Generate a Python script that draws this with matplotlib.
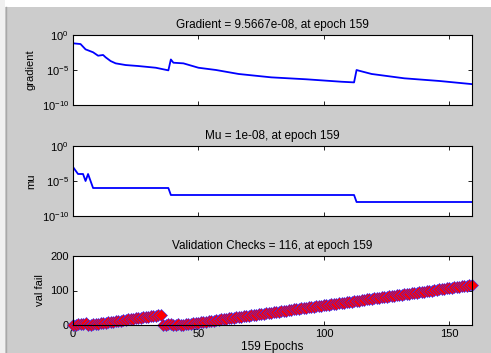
import matplotlib
matplotlib.use('Agg')
import matplotlib.pyplot as plt
from matplotlib.patches import Rectangle
from matplotlib.lines import Line2D

plt.rcParams['font.family'] = ['Liberation Sans', 'DejaVu Sans']
plt.rcParams['mathtext.fontset'] = 'custom'
plt.rcParams['mathtext.rm'] = 'Liberation Sans'
plt.rcParams['mathtext.it'] = 'Liberation Sans'
plt.rcParams['font.size'] = 8

N_EPOCHS = 159

# gradient
grad_epoch = [0, 3, 5, 8, 10, 12, 13, 15, 17, 21, 26, 33, 38, 39, 40, 44,
              50, 57, 66, 79, 93, 107, 112, 113, 114, 119, 132, 146, 159]
grad_val = [6.5e-2, 5.1e-2, 8.9e-3, 3.4e-3, 1.1e-3, 1.4e-3, 6.5e-4, 1.9e-4,
            8.9e-5, 5.1e-5, 3.7e-5, 2.1e-5, 8.9e-6, 3.2e-4, 1.1e-4, 8.9e-5,
            2.1e-5, 1.0e-5, 2.7e-6, 8.9e-7, 4.7e-7, 2.1e-7, 1.7e-7, 1.0e-5,
            7.9e-6, 2.7e-6, 6.5e-7, 2.7e-7, 9.5667e-8]

# mu
mu_epoch = [0, 2, 4, 5, 6, 7, 8, 38, 39, 112, 113, 159]
mu_val = [1e-3, 1e-4, 1e-4, 1e-5, 1e-4, 1e-5, 1e-6, 1e-6, 1e-7, 1e-7, 1e-8, 1e-8]

# validation checks, one value per epoch 0..159
val_fail = [0, 1, 2, 3, 4, 5,
            0, 1, 2, 3, 4, 5, 6, 7, 8, 9, 10, 11, 12, 13, 14, 15, 16, 17, 18, 19,
            20, 21, 22, 23, 24, 25, 26, 27, 28, 29,
            0, 1, 2, 3, 0, 1, 2, 0,
            1, 2, 3, 4, 5, 6, 7, 8, 9, 10, 11, 12, 13, 14, 15, 16, 17, 18, 19, 20,
            21, 22, 23, 24, 25, 26, 27, 28, 29, 30, 31, 32, 33, 34, 35, 36, 37, 38,
            39, 40, 41, 42, 43, 44, 45, 46, 47, 48, 49, 50, 51, 52, 53, 54, 55, 56,
            57, 58, 59, 60, 61, 62, 63, 64, 65, 66, 67, 68, 69, 70, 71, 72, 73, 74,
            75, 76, 77, 78, 79, 80, 81, 82, 83, 84, 85, 86, 87, 88, 89, 90, 91, 92,
            93, 94, 95, 96, 97, 98, 99, 100, 101, 102, 103, 104, 105, 106, 107, 108,
            109, 110, 111, 112, 113, 114, 115, 116]
val_epoch = list(range(len(val_fail)))

titles = ['Gradient = 9.5667e-08, at epoch 159',
          'Mu = 1e-08, at epoch 159',
          'Validation Checks = 116, at epoch 159']
ylabels = ['gradient', 'mu', 'val fail']
xticks = [0, 50, 100, 150]

W, H = 491, 353
fig = plt.figure(figsize=(W / 100, H / 100), dpi=100, facecolor='#cccccc')
# white margin at top/left of the screenshot
fig.patches.append(Rectangle((0, (H - 7) / H), 1, 7 / H, transform=fig.transFigure,
                             facecolor='white', edgecolor='none', zorder=-5))
fig.patches.append(Rectangle((0, 0), 5 / W, 1, transform=fig.transFigure,
                             facecolor='#f0f0f0', edgecolor='none', zorder=-5))
fig.lines.append(Line2D([5.5 / W, 5.5 / W], [0, (H - 7) / H], transform=fig.transFigure,
                        color='#a8a8a8', lw=1, zorder=-4))

left, width = 73 / W, 399 / W
boxes = [(35, 105), (146, 216), (256, 325)]
axes = []
for top, bot in boxes:
    ax = fig.add_axes([left, 1 - bot / H, width, (bot - top) / H])
    axes.append(ax)

ax1, ax2, ax3 = axes
ax1.semilogy(grad_epoch, grad_val, color='#0000ff', lw=1.3)
ax2.semilogy(mu_epoch, mu_val, color='#0000ff', lw=1.3)
ax3.plot(val_epoch, val_fail, color='#0000ff', lw=1.3, marker='D', ms=6,
         mfc='#ff0000', mec='#3030ff', mew=0.4, clip_on=False)

for ax in (ax1, ax2):
    ax.set_ylim(1e-10, 1e0)
    ax.set_yticks([1e0, 1e-5, 1e-10])
    ax.set_yticklabels([r'$10^{0}$', r'$10^{-5}$', r'$10^{-10}$'])
    ax.minorticks_off()

ax3.set_ylim(0, 200)
ax3.set_yticks([0, 100, 200])
ax3.set_xlabel('159 Epochs', fontsize=8.5, labelpad=1)

for ax, t, yl in zip(axes, titles, ylabels):
    ax.set_xlim(0, N_EPOCHS)
    ax.set_xticks(xticks)
    if ax is not ax3:
        ax.set_xticklabels([])
    ax.set_title(t, fontsize=8.5, pad=5)
    ax.set_ylabel(yl, fontsize=8, labelpad=4)
    ax.tick_params(direction='in', top=True, right=True, length=3, width=0.6,
                   labelsize=8, pad=3)
    ax.set_facecolor('white')
    for s in ax.spines.values():
        s.set_linewidth(0.8)

fig.savefig('out.png', dpi=100, facecolor=fig.get_facecolor())
